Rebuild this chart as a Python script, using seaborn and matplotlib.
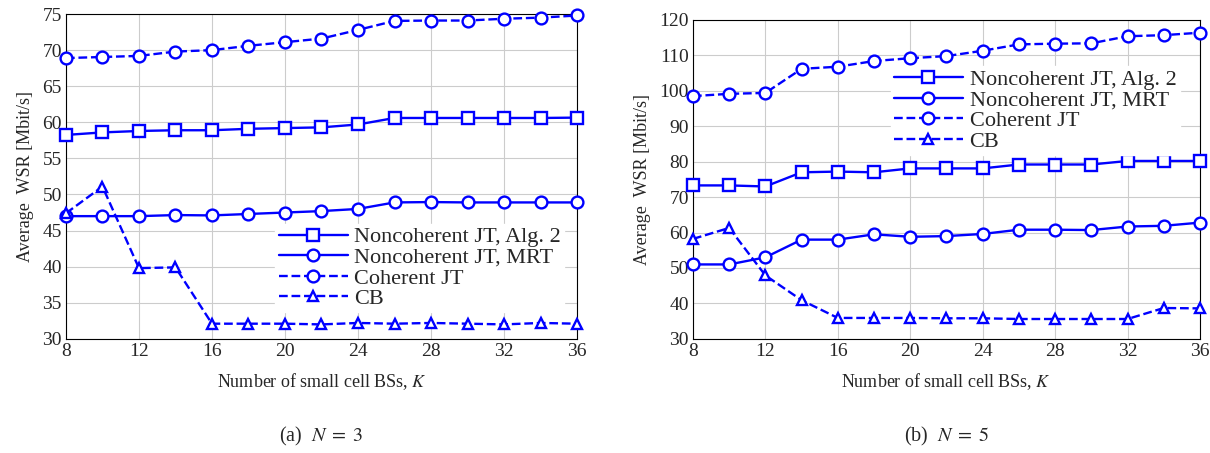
import numpy as np
import pandas as pd
import matplotlib
matplotlib.use("Agg")
import matplotlib.pyplot as plt
import seaborn as sns

# Values
K = [8, 10, 12, 14, 16, 18, 20, 22, 24, 26, 28, 30, 32, 34, 36]

# (a) N = 3
alg2_n3 = [58.25, 58.6, 58.8, 58.9, 58.9, 59.1, 59.2, 59.3, 59.7, 60.6, 60.6, 60.6, 60.6, 60.6, 60.65]
mrt_n3 = [47.0, 47.0, 47.0, 47.15, 47.1, 47.3, 47.5, 47.7, 48.0, 48.9, 48.95, 48.9, 48.9, 48.9, 48.9]
coh_n3 = [68.9, 69.05, 69.2, 69.8, 70.0, 70.6, 71.1, 71.6, 72.8, 74.05, 74.1, 74.1, 74.35, 74.5, 74.8]
cb_n3 = [47.4, 51.1, 39.8, 39.9, 32.1, 32.1, 32.1, 32.0, 32.2, 32.1, 32.2, 32.1, 32.0, 32.2, 32.1]

# (b) N = 5
alg2_n5 = [73.3, 73.3, 73.0, 77.0, 77.2, 77.0, 78.1, 78.1, 78.1, 79.2, 79.2, 79.2, 80.2, 80.2, 80.2]
mrt_n5 = [51.0, 51.0, 53.0, 58.0, 58.0, 59.5, 58.8, 59.0, 59.6, 60.8, 60.8, 60.7, 61.7, 61.9, 62.8]
coh_n5 = [98.5, 99.15, 99.4, 106.2, 106.8, 108.4, 109.2, 109.8, 111.3, 113.1, 113.3, 113.4, 115.4, 115.7, 116.4]
cb_n5 = [58.2, 61.3, 47.9, 40.9, 35.9, 35.9, 35.9, 35.8, 35.8, 35.6, 35.6, 35.6, 35.6, 38.7, 38.6]

labels = ["Noncoherent JT, Alg. 2", "Noncoherent JT, MRT", "Coherent JT", "CB"]
markers = ["s", "o", "o", "^"]
dashed = [False, False, True, True]

sns.set_style("white")
plt.rcParams["font.family"] = ["Liberation Serif", "DejaVu Serif"]
plt.rcParams["mathtext.fontset"] = "stix"

fig = plt.figure(figsize=(12.1, 4.53), dpi=100)
ax1 = fig.add_axes([0.0545, 0.252, 0.4224, 0.717])
ax2 = fig.add_axes([0.5727, 0.252, 0.4190, 0.704])


def draw(ax, series, ylim, yticks, legend_anchor):
    handles = []
    for vals, lab, mk, ds in zip(series, labels, markers, dashed):
        df = pd.DataFrame({"K": K, "WSR": vals})
        kw = dict(linestyle="--", dashes=(3, 3)) if ds else dict(linestyle="-")
        sns.lineplot(data=df, x="K", y="WSR", ax=ax, color="#0000ff", lw=1.7,
                     marker=mk, markersize=7.5 if mk == "^" else 8.5,
                     markerfacecolor="white", markeredgecolor="#0000ff",
                     markeredgewidth=1.7, zorder=3, clip_on=False, **kw)
        line = ax.lines[-1]
        line.set_label(lab)
        handles.append(line)
    ax.set_xlim(8, 36)
    ax.set_ylim(*ylim)
    ax.set_xticks(range(8, 37, 4))
    ax.set_yticks(yticks)
    ax.grid(True, color="#cccccc", lw=0.8)
    for s in ax.spines.values():
        s.set_color("black")
        s.set_linewidth(0.8)
    ax.tick_params(labelsize=14, length=0, pad=3)
    ax.set_xlabel("Number of small cell BSs, $K$", fontsize=13, labelpad=8)
    ax.set_ylabel("Average  WSR [Mbit/s]", fontsize=13, labelpad=6)
    leg = ax.legend(handles=handles, loc="upper left", bbox_to_anchor=legend_anchor,
                    fontsize=16, handlelength=3.1, labelspacing=0.0,
                    handletextpad=0.3, borderpad=0.15, borderaxespad=0,
                    frameon=True, fancybox=False, framealpha=1,
                    facecolor="white", edgecolor="white")
    leg.set_zorder(5)
    return ax


draw(ax1, [alg2_n3, mrt_n3, coh_n3, cb_n3], (30, 75), range(30, 76, 5), (0.41, 0.355))
draw(ax2, [alg2_n5, mrt_n5, coh_n5, cb_n5], (30, 120), range(30, 121, 10), (0.39, 0.855))

ax1.text(0.5, -0.30, r"(a)  $N\;=\;3$", transform=ax1.transAxes, ha="center",
         va="center", fontsize=14.5)
ax2.text(0.5, -0.307, r"(b)  $N\;=\;5$", transform=ax2.transAxes, ha="center",
         va="center", fontsize=14.5)

fig.savefig("out.png", dpi=100)
